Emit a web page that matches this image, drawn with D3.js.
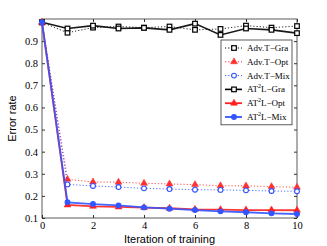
<!DOCTYPE html>
<html>
<head>
<meta charset="utf-8">
<script src="https://cdn.jsdelivr.net/npm/d3@7"></script>
<style>
  body { margin: 0; background: #fff; }
  .axis-title { font-family: "Liberation Sans", Arial, sans-serif; font-size: 11px; fill: #000; }
  .leg text { font-family: "Liberation Serif", serif; font-size: 9px; fill: #000; }
</style>
</head>
<body>
<div id="vis"></div>
<script>
const iterations = [0, 1, 2, 3, 4, 5, 6, 7, 8, 9, 10];
const advGra = [0.985, 0.938, 0.961, 0.966, 0.961, 0.966, 0.951, 0.955, 0.970, 0.961, 0.968];
const advOpt = [0.985, 0.275, 0.263, 0.262, 0.257, 0.254, 0.251, 0.246, 0.245, 0.242, 0.239];
const advMix = [0.985, 0.252, 0.245, 0.240, 0.234, 0.231, 0.228, 0.227, 0.225, 0.222, 0.221];
const atlGra = [0.985, 0.957, 0.970, 0.957, 0.960, 0.951, 0.979, 0.928, 0.957, 0.951, 0.936];
const atlOpt = [0.985, 0.159, 0.153, 0.150, 0.147, 0.144, 0.139, 0.138, 0.136, 0.136, 0.135];
const atlMix = [0.985, 0.171, 0.163, 0.157, 0.148, 0.142, 0.136, 0.130, 0.126, 0.121, 0.118];
const xTicks = [0, 2, 4, 6, 8, 10];
const yTicks = [0.1, 0.2, 0.3, 0.4, 0.5, 0.6, 0.7, 0.8, 0.9];

const series = [
  { name: "Adv.T\u2212Gra", sup: false, values: advGra, color: "#000", dash: "1.2,2", marker: "square", fill: false, width: 1 },
  { name: "Adv.T\u2212Opt", sup: false, values: advOpt, color: "#ff3030", dash: "1.2,2", marker: "triangle", fill: true, width: 1 },
  { name: "Adv.T\u2212Mix", sup: false, values: advMix, color: "#3050ff", dash: "1.2,2", marker: "circle", fill: false, width: 1 },
  { name: "L\u2212Gra", sup: true, values: atlGra, color: "#000", dash: null, marker: "square", fill: false, width: 1.6 },
  { name: "L\u2212Opt", sup: true, values: atlOpt, color: "#ff2020", dash: null, marker: "triangle", fill: true, width: 1.8 },
  { name: "L\u2212Mix", sup: true, values: atlMix, color: "#3355ff", dash: null, marker: "circle", fill: true, width: 1.8 }
];

const width = 327, height = 246;
const margin = { top: 19, right: 30, bottom: 28, left: 42 };

const svg = d3.select("#vis").append("svg")
  .attr("width", width).attr("height", height);

const x = d3.scaleLinear().domain([0, 10]).range([margin.left, width - margin.right]);
const y = d3.scaleLinear().domain([0.1, 1.0]).range([height - margin.bottom, margin.top]);

// axes with inward ticks
const ax = g => {
  g.selectAll(".domain").remove();
  g.selectAll(".tick text")
    .attr("font-family", "'Liberation Serif', 'DejaVu Serif', serif")
    .attr("font-size", "10.5px").attr("fill", "#000");
  g.selectAll(".tick line").attr("stroke", "#333");
};
svg.append("g").attr("transform", "translate(0," + y(0.1) + ")")
  .call(d3.axisBottom(x).tickValues(xTicks).tickSize(-3).tickPadding(4))
  .call(ax);
svg.append("g").attr("transform", "translate(0," + y(1.0) + ")")
  .call(d3.axisTop(x).tickValues(xTicks).tickSize(-3).tickFormat(""))
  .call(ax);
svg.append("g").attr("transform", "translate(" + x(0) + ",0)")
  .call(d3.axisLeft(y).tickValues(yTicks).tickSize(-3).tickPadding(4).tickFormat(d3.format(".1f")))
  .call(ax);
svg.append("g").attr("transform", "translate(" + x(10) + ",0)")
  .call(d3.axisRight(y).tickValues(yTicks).tickSize(-3).tickFormat(""))
  .call(ax);

svg.append("rect")
  .attr("x", x(0)).attr("y", y(1.0))
  .attr("width", x(10) - x(0)).attr("height", y(0.1) - y(1.0))
  .attr("fill", "none").attr("stroke", "#333").attr("stroke-width", 0.8);

function drawMarker(g, s, cx, cy) {
  if (s.marker === "square") {
    g.append("rect").attr("x", cx - 2.3).attr("y", cy - 2.3).attr("width", 4.6).attr("height", 4.6)
      .attr("fill", s.fill ? s.color : "#fff").attr("stroke", s.color).attr("stroke-width", 1.2);
  } else if (s.marker === "triangle") {
    g.append("path").attr("d", d3.symbol(d3.symbolTriangle, 20)())
      .attr("transform", "translate(" + cx + "," + cy + ")")
      .attr("fill", s.color).attr("stroke", s.color).attr("stroke-width", 0.6);
  } else {
    g.append("circle").attr("cx", cx).attr("cy", cy).attr("r", 2.4)
      .attr("fill", s.fill ? s.color : "#fff").attr("stroke", s.color).attr("stroke-width", 1.1);
  }
}

const line = d3.line().x((d, i) => x(iterations[i])).y(d => y(d));

const plot = svg.append("g");
series.forEach(s => {
  plot.append("path").datum(s.values)
    .attr("d", line)
    .attr("fill", "none")
    .attr("stroke", s.color)
    .attr("stroke-width", s.width)
    .attr("stroke-dasharray", s.dash)
    .attr("opacity", s.dash ? 0.85 : 0.9);
  const mg = plot.append("g");
  s.values.forEach((v, i) => drawMarker(mg, s, x(iterations[i]), y(v)));
});

// legend
const leg = svg.append("g").attr("class", "leg");
const lx = 221, ly = 40, lw = 71, rowH = 13.8;
leg.append("rect").attr("x", lx).attr("y", ly).attr("width", lw).attr("height", rowH * 6 + 2)
  .attr("fill", "#fff").attr("stroke", "#333").attr("stroke-width", 0.8);
series.forEach((s, i) => {
  const cy = ly + 8 + i * rowH;
  leg.append("line").attr("x1", lx + 4).attr("x2", lx + 21).attr("y1", cy).attr("y2", cy)
    .attr("stroke", s.color).attr("stroke-width", s.width).attr("stroke-dasharray", s.dash);
  drawMarker(leg, s, lx + 13, cy);
  const t = leg.append("text").attr("x", lx + 26).attr("y", cy + 3);
  if (s.sup) {
    t.append("tspan").text("AT");
    t.append("tspan").attr("dy", -4).attr("font-size", "6px").text("2");
    t.append("tspan").attr("dy", 4).text(s.name);
  } else {
    t.text(s.name);
  }
});

svg.append("text").attr("class", "axis-title")
  .attr("x", (x(0) + x(10)) / 2).attr("y", 243)
  .attr("text-anchor", "middle").text("Iteration of training");
svg.append("text").attr("class", "axis-title")
  .attr("transform", "translate(16," + ((y(0.1) + y(1.0)) / 2) + ") rotate(-90)")
  .attr("text-anchor", "middle").text("Error rate");
</script>
</body>
</html>
